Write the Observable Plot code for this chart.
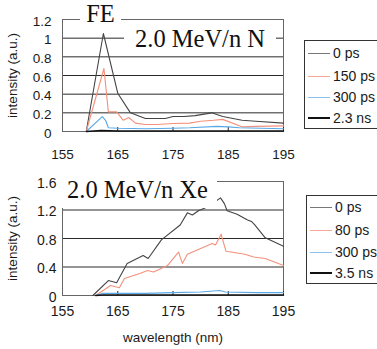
<!DOCTYPE html>
<html><head><meta charset="utf-8">
<script src="https://cdn.jsdelivr.net/npm/d3@7"></script>
<script src="https://cdn.jsdelivr.net/npm/@observablehq/plot@0.6"></script>
<style>
body{margin:0;background:#fff;}
#wrap{position:relative;width:377px;height:349px;overflow:hidden;font-family:"Liberation Sans",Arial,sans-serif;color:#1a1a1a;background:#fff}
.plot{position:absolute;left:0}
.plot svg{display:block}
.title{position:absolute;background:#fff;font-family:"Liberation Serif","Times New Roman",serif;font-size:24.5px;text-align:center;white-space:nowrap;color:#111}
.legend{position:absolute;border:1px solid #333;background:#fff;width:92px;height:87px;font-size:14px}
.row{position:absolute;left:3px;height:16px;line-height:16px;white-space:nowrap}
.sw{display:inline-block;width:22px;vertical-align:middle;margin-right:3px;position:relative;top:-1px}
</style></head>
<body><div id="wrap"></div>
<script>
// ---------- data ----------
const xTicks = [155, 165, 175, 185, 195];
const yTicksN = [0, 0.2, 0.4, 0.6, 0.8, 1, 1.2];
const yTicksXe = [0, 0.4, 0.8, 1.2, 1.6];

const seriesN = ["0 ps", "150 ps", "300 ps", "2.3 ns"];
const seriesXe = ["0 ps", "80 ps", "300 ps", "3.5 ns"];
const colors = ["#444444", "#f4917c", "#5aa8e6", "#111111"];
const legendColors = ["#777777", "#f5a898", "#8cc0ea", "#111111"];
const widths = [1.1, 1.1, 1.1, 1.4];

// 2.0 MeV/n N  [wavelength nm, intensity a.u.]
const n0ps = [[159.3,0],[162.4,1.05],[165,0.41],[167.3,0.2],[170,0.14],[171.8,0.14],[173.6,0.14],[175,0.16],[177,0.16],[179,0.17],[182,0.2],[184,0.16],[187.5,0.12],[190,0.11],[195,0.09]];
const n150ps = [[159.3,0],[162.5,0.675],[163.3,0.21],[164.8,0.21],[166,0.12],[167,0.15],[168.2,0.09],[170,0.075],[172,0.075],[175,0.085],[178,0.09],[180,0.11],[182.3,0.12],[184,0.13],[187.5,0.05],[190,0.055],[195,0.06]];
const n300ps = [[159.3,0],[162.2,0.16],[162.8,0.12],[163.3,0.04],[165,0.035],[170,0.03],[175,0.035],[178,0.04],[183,0.055],[185,0.05],[187,0.04],[195,0.03]];
const n23ns = [[159.3,0],[162,0.01],[165,0.005],[175,0.005],[185,0.006],[195,0.005]];

// 2.0 MeV/n Xe
const xe0ps = [[160.5,0],[163.3,0.21],[164.8,0.18],[166.7,0.45],[169.6,0.56],[170.5,0.52],[172.9,0.78],[176.3,0.99],[177.6,1.16],[178.5,1.13],[179.6,1.19],[181.4,1.25],[183.6,1.37],[184.3,1.29],[184.8,1.19],[186.6,1.14],[188.5,1.06],[189.2,1.04],[189.8,0.99],[191.7,0.81],[195,0.69]];
const xe80ps = [[161,0],[163.7,0.14],[165.3,0.11],[166.2,0.24],[169,0.31],[170.4,0.35],[171.5,0.33],[174,0.42],[176,0.61],[176.7,0.45],[177.6,0.58],[182.1,0.73],[182.7,0.71],[183.7,0.86],[184.6,0.62],[188,0.58],[189.6,0.54],[191.7,0.52],[195,0.42]];
const xe300ps = [[161,0],[162.3,0.03],[165,0.03],[170,0.03],[175,0.04],[180,0.05],[183.5,0.07],[184.5,0.05],[190,0.04],[195,0.04]];
const xe35ns = [[161,0],[162.3,0.008],[165,0.006],[175,0.006],[185,0.006],[195,0.006]];

// ---------- drawing ----------
const wrap = document.getElementById("wrap");

function chart({series, yMax, yTicks, height, marginTop, marginBottom, xPad, yPad, fontSize, xLabel}) {
  const marks = [
    Plot.ruleY(yTicks, {stroke: "#2a2a2a", strokeWidth: 1}),
    Plot.frame({stroke: "#666"}),
    Plot.axisY(yTicks, {tickSize: 0, tickPadding: yPad, tickFormat: d => String(d), fontSize, dy: 2, label: null}),
    Plot.axisX(xTicks.slice(1), {tickSize: -4, tickFormat: () => "", label: null, stroke: "#222"}),
    Plot.axisX(xTicks, {tickSize: 0, tickPadding: xPad, tickFormat: d => String(d), fontSize, label: null}),
    Plot.text(["intensity (a.u.)"], {frameAnchor: "left", textAnchor: "middle", dx: -50, rotate: -90, text: d => d, fontSize: 13.5, fill: "#1a1a1a"})
  ];
  series.forEach((s, i) => {
    marks.push(Plot.line(s, {x: d => d[0], y: d => d[1], stroke: colors[i], strokeWidth: widths[i]}));
  });
  if (xLabel) marks.push(Plot.text([xLabel], {frameAnchor: "bottom", textAnchor: "middle", dy: 46, text: d => d, fontSize: 13.5, fill: "#1a1a1a"}));
  return Plot.plot({
    width: 377, height, marginLeft: 62, marginRight: 94, marginTop, marginBottom,
    style: {fontFamily: '"Liberation Sans", Arial, sans-serif', color: "#1a1a1a", background: "transparent", overflow: "visible"},
    x: {domain: [155, 195], label: null},
    y: {domain: [0, yMax], label: null},
    marks
  });
}

function place(el, top) {
  const d = document.createElement("div");
  d.className = "plot"; d.style.top = top + "px";
  d.appendChild(el); wrap.appendChild(d);
}

place(chart({series: [n0ps, n150ps, n300ps, n23ns], yMax: 1.2, yTicks: yTicksN, height: 170, marginTop: 19, marginBottom: 39, xPad: 18, yPad: 11, fontSize: 13.5}), 0);
place(chart({series: [xe0ps, xe80ps, xe300ps, xe35ns], yMax: 1.6, yTicks: yTicksXe, height: 179, marginTop: 11, marginBottom: 54, xPad: 11, yPad: 6, fontSize: 14, xLabel: "wavelength (nm)"}), 170);

function title(text, left, top, width, height) {
  const t = document.createElement("div");
  t.className = "title"; t.textContent = text;
  Object.assign(t.style, {left: left + "px", top: top + "px", width: width + "px", height: height + "px", lineHeight: height + "px"});
  wrap.appendChild(t);
}
title("FE", 80, 2, 41, 24);
title("2.0 MeV/n N", 124, 24, 152, 30);
title("2.0 MeV/n Xe", 58, 172, 159, 36);

function legend(names, left, top, centers) {
  const L = document.createElement("div");
  L.className = "legend";
  Object.assign(L.style, {left: left + "px", top: top + "px"});
  names.forEach((n, i) => {
    const r = document.createElement("div");
    r.className = "row"; r.style.top = (centers[i] - 8) + "px";
    const sw = document.createElement("span");
    sw.className = "sw"; sw.style.borderTop = (i === 3 ? 2 : 1) + "px solid " + legendColors[i];
    r.appendChild(sw);
    r.appendChild(document.createTextNode(n));
    L.appendChild(r);
  });
  wrap.appendChild(L);
}
legend(seriesN, 304, 40, [12, 35, 56, 77]);
legend(seriesXe, 306, 195, [11, 34, 56, 77]);
</script></body></html>
